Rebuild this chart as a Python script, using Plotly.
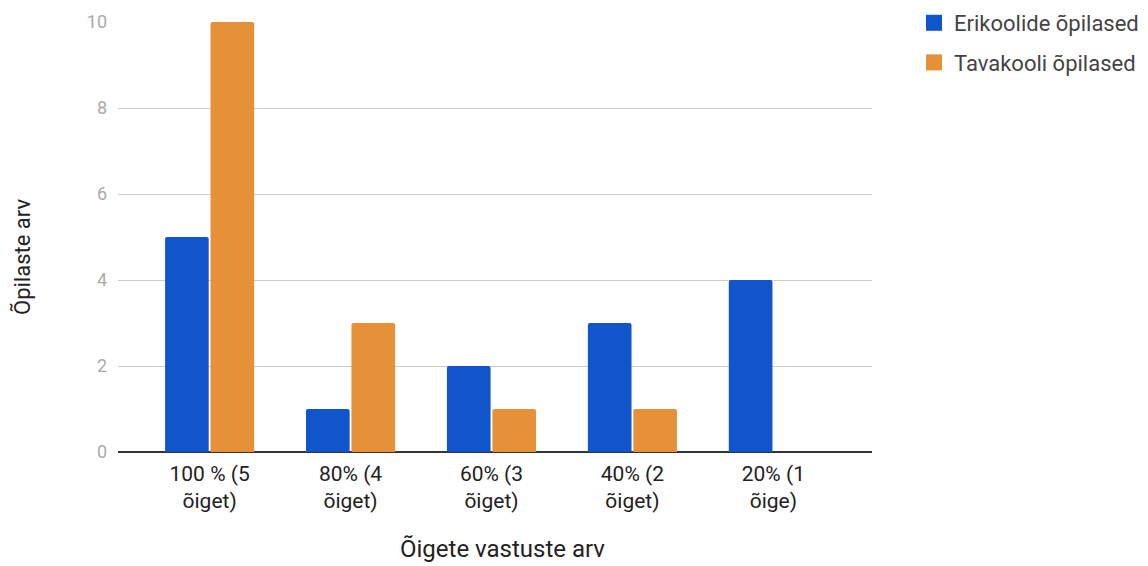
import plotly.graph_objects as go

categories = ["100 % (5<br>õiget)", "80% (4<br>õiget)", "60% (3<br>õiget)", "40% (2<br>õiget)", "20% (1<br>õige)"]
erikoolide = [5, 1, 2, 3, 4]
tavakooli = [10, 3, 1, 1, 0]
series_names = ["Erikoolide õpilased", "Tavakooli õpilased"]
colors = ["#1155CC", "#E69138"]
y_ticks = [0, 2, 4, 6, 8, 10]

FONT = "Roboto"

# page body has an 8px default margin, so figure coords = page coords - 8
W, H = 1140, 558
L, R, T, B = 110, 276, 14, 114
plot_w = W - L - R
plot_h = H - T - B

fig = go.Figure()
for name, vals, col, grp in zip(series_names, [erikoolide, tavakooli], colors, ["a", "b"]):
    fig.add_trace(go.Bar(x=categories, y=vals, name=name, legendgroup=grp, showlegend=False,
                         marker=dict(color=col, line=dict(width=0))))
    # legend-only entry with a larger square swatch
    fig.add_trace(go.Scatter(x=[None], y=[None], mode="markers", name=name, legendgroup=grp,
                             marker=dict(symbol="square", size=16, color=col)))

def px_x(p):
    return (p - L) / plot_w

def px_y(p):
    return (T + plot_h - p) / plot_h

fig.update_layout(
    width=W, height=H,
    margin=dict(l=L, r=R, t=T, b=B, autoexpand=False),
    paper_bgcolor="white", plot_bgcolor="white",
    font=dict(family=FONT, size=21, color="#222222"),
    barmode="group", bargap=0.355, bargroupgap=0.04,
    barcornerradius=2,
    showlegend=True,
    legend=dict(x=px_x(906), y=px_y(-6), xanchor="left", yanchor="top",
                font=dict(size=22, color="#444444"), itemsizing="trace",
                tracegroupgap=8, itemwidth=30, bgcolor="rgba(0,0,0,0)"),
    xaxis=dict(range=[-0.65, 4.70], showgrid=False, zeroline=False, showline=False,
               tickfont=dict(size=21, color="#222222"), ticks="", ticklabelstandoff=7,
               automargin=False),
    yaxis=dict(range=[0, 10], tickvals=y_ticks, showgrid=True, gridcolor="#CCCCCC", gridwidth=1,
               zeroline=True, zerolinecolor="#333333", zerolinewidth=1.5, showline=False,
               tickfont=dict(size=18, color="#AAAAAA"), ticks="", ticklabelstandoff=10,
               automargin=False),
    annotations=[
        dict(text="Õpilaste arv", x=px_x(14), y=px_y(249), xref="paper", yref="paper",
             xanchor="center", yanchor="middle", borderpad=0,
             showarrow=False, textangle=-90, font=dict(size=22, color="#222222")),
        dict(text="Õigete vastuste arv", x=px_x(494), y=px_y(541), xref="paper", yref="paper",
             xanchor="center", yanchor="middle", borderpad=0,
             showarrow=False, font=dict(size=24, color="#222222")),
    ],
)

fig.write_html("out.html")
